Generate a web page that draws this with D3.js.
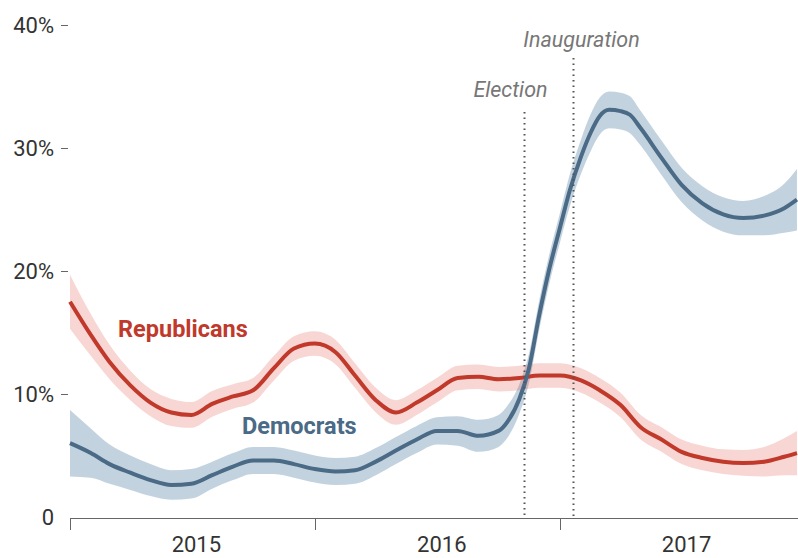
<!DOCTYPE html>
<html>
<head>
<meta charset="utf-8">
<script src="https://cdn.jsdelivr.net/npm/d3@7"></script>
<style>
  html, body { margin: 0; padding: 0; background: #fff; }
  svg { display: block; font-family: Roboto, "Noto Sans", sans-serif; }
</style>
</head>
<body>
<svg id="chart" width="798" height="558"></svg>
<script>
// Share of each party, with margin of error (percentage points)
const repDates = ["2015-01-01","2015-02-01","2015-03-01","2015-04-01","2015-05-01","2015-06-01",
  "2015-07-01","2015-08-01","2015-09-01","2015-10-01","2015-11-01","2015-12-01",
  "2016-01-01","2016-02-01","2016-03-01","2016-04-01","2016-05-01","2016-06-01",
  "2016-07-01","2016-08-01","2016-09-01","2016-10-01","2016-11-01","2016-12-01",
  "2017-01-01","2017-02-01","2017-03-01","2017-04-01","2017-05-01","2017-06-01",
  "2017-07-01","2017-08-01","2017-09-01","2017-10-01","2017-11-01","2017-12-01","2017-12-20"];
const repValues = [17.5,14.8,12.6,10.7,9.3,8.5, 8.3,9.2,9.8,10.3,12.1,13.7,
  14.1,13.4,11.5,9.5,8.5,9.3, 10.3,11.3,11.4,11.2,11.3,11.5,
  11.5,11.1,10.3,9.1,7.3,6.3, 5.3,4.8,4.5,4.4,4.5,4.9,5.2];
const repMargin = [2.2,1.7,1.4,1.2,1.1,1.1, 1.05,1.05,1.0,1.0,1.0,1.0,
  1.0,1.0,1.0,1.0,1.0,1.0, 1.0,1.0,1.0,1.0,1.0,1.0,
  1.0,1.0,1.0,1.0,1.0,1.0, 1.0,1.0,1.0,1.05,1.2,1.5,1.8];

const demDates = ["2015-01-01","2015-02-01","2015-03-01","2015-04-01","2015-05-01","2015-06-01",
  "2015-07-01","2015-08-01","2015-09-01","2015-10-01","2015-11-01","2015-12-01",
  "2016-01-01","2016-02-01","2016-03-01","2016-04-01","2016-05-01","2016-06-01",
  "2016-07-01","2016-08-01","2016-09-01","2016-10-01","2016-10-15","2016-11-01","2016-11-15",
  "2016-12-01","2016-12-15","2017-01-01","2017-01-15","2017-02-01","2017-02-15",
  "2017-03-01","2017-03-15","2017-04-01","2017-04-15","2017-05-01","2017-06-01",
  "2017-07-01","2017-08-01","2017-09-01","2017-10-01","2017-11-01","2017-12-01","2017-12-20"];
const demValues = [6.0,5.2,4.3,3.6,3.0,2.6, 2.7,3.4,4.1,4.6,4.6,4.3,
  3.9,3.7,3.8,4.5,5.4,6.3, 7.0,7.0,6.6,7.0,7.8,9.6,12.0,
  16.5,20.0,23.6,26.5,29.3,31.2, 32.6,33.1,33.0,32.7,31.6,29.2,
  27.0,25.5,24.6,24.3,24.5,25.1,25.8];
const demMargin = [2.7,2.0,1.6,1.4,1.3,1.2, 1.2,1.1,1.1,1.1,1.1,1.1,
  1.1,1.1,1.1,1.1,1.1,1.1, 1.1,1.2,1.3,1.3,1.3,1.2,1.2,
  1.2,1.2,1.2,1.3,1.4,1.5, 1.5,1.5,1.5,1.5,1.4,1.4,
  1.4,1.4,1.4,1.4,1.6,2.0,2.5];

const yTicks = [0, 10, 20, 30, 40];
const yearTicks = ["2015-01-01", "2016-01-01", "2017-01-01"];
const yearLabels = ["2015", "2016", "2017"];
const events = [
  { name: "Election", date: "2016-11-08" },
  { name: "Inauguration", date: "2017-01-20" }
];

const parse = d3.timeParse("%Y-%m-%d");
const svg = d3.select("#chart");

const x = d3.scaleTime()
  .domain([parse("2015-01-01"), parse("2018-01-01")])
  .range([70, 805]);
const y = d3.scaleLinear().domain([0, 40]).range([517, 25]);

const rep = repDates.map((d, i) => ({ date: parse(d), v: repValues[i], m: repMargin[i] }));
const dem = demDates.map((d, i) => ({ date: parse(d), v: demValues[i], m: demMargin[i] }));

const curve = d3.curveMonotoneX;
const band = d3.area().curve(curve)
  .x(d => x(d.date)).y0(d => y(d.v - d.m)).y1(d => y(d.v + d.m));
const line = d3.line().curve(curve).x(d => x(d.date)).y(d => y(d.v));

// confidence bands
svg.append("path").datum(dem).attr("d", band)
  .attr("fill", "#4f7fa3").attr("fill-opacity", 0.35);
svg.append("path").datum(rep).attr("d", band)
  .attr("fill", "#de5a4f").attr("fill-opacity", 0.25);

// trend lines
svg.append("path").datum(rep).attr("d", line)
  .attr("fill", "none").attr("stroke", "#c0392b").attr("stroke-width", 4)
  .attr("stroke-linejoin", "round");
svg.append("path").datum(dem).attr("d", line)
  .attr("fill", "none").attr("stroke", "#4a6a86").attr("stroke-width", 4)
  .attr("stroke-linejoin", "round");

// event markers
const evTop = { "Election": 112, "Inauguration": 58 };
const evDx = { "Election": -14, "Inauguration": 8 };
const evLabelY = { "Election": 97, "Inauguration": 47 };
events.forEach(e => {
  const ex = Math.round(x(parse(e.date))) + 0.5;
  svg.append("line")
    .attr("x1", ex).attr("x2", ex)
    .attr("y1", evTop[e.name]).attr("y2", 518)
    .attr("stroke", "#555").attr("stroke-width", 2)
    .attr("stroke-dasharray", "1.5,4");
  svg.append("text")
    .attr("x", ex + evDx[e.name]).attr("y", evLabelY[e.name])
    .attr("text-anchor", "middle")
    .attr("font-style", "italic").attr("font-size", 21.5)
    .attr("fill", "#777").text(e.name);
});

// x axis
svg.append("line").attr("x1", 70).attr("x2", 798).attr("y1", 518.5).attr("y2", 518.5)
  .attr("stroke", "#666").attr("stroke-width", 1);
yearTicks.forEach((d, i) => {
  const tx = Math.round(x(parse(d))) + 0.5;
  svg.append("line").attr("x1", tx).attr("x2", tx).attr("y1", 518).attr("y2", 530)
    .attr("stroke", "#666").attr("stroke-width", 1);
  const mid = x(d3.timeMonth.offset(parse(d), 6)) + 5;
  svg.append("text").attr("x", mid).attr("y", 552)
    .attr("text-anchor", "middle").attr("font-size", 22).attr("fill", "#333")
    .text(yearLabels[i]);
});

// y axis
yTicks.forEach(t => {
  const ty = y(t);
  svg.append("text").attr("x", 54).attr("y", ty).attr("dy", "0.35em")
    .attr("text-anchor", "end").attr("font-size", 22).attr("fill", "#333")
    .text(t === 0 ? "0" : t + "%");
  if (t !== 0) {
    svg.append("line").attr("x1", 61).attr("x2", 68).attr("y1", ty + 0.5).attr("y2", ty + 0.5)
      .attr("stroke", "#666").attr("stroke-width", 1);
  }
});

// series labels
svg.append("text").attr("x", 118).attr("y", 337).attr("font-size", 23.5)
  .attr("font-weight", "bold").attr("fill", "#c0392b").text("Republicans");
svg.append("text").attr("x", 242).attr("y", 434).attr("font-size", 23.5)
  .attr("font-weight", "bold").attr("fill", "#4a6a86").text("Democrats");
</script>
</body>
</html>
